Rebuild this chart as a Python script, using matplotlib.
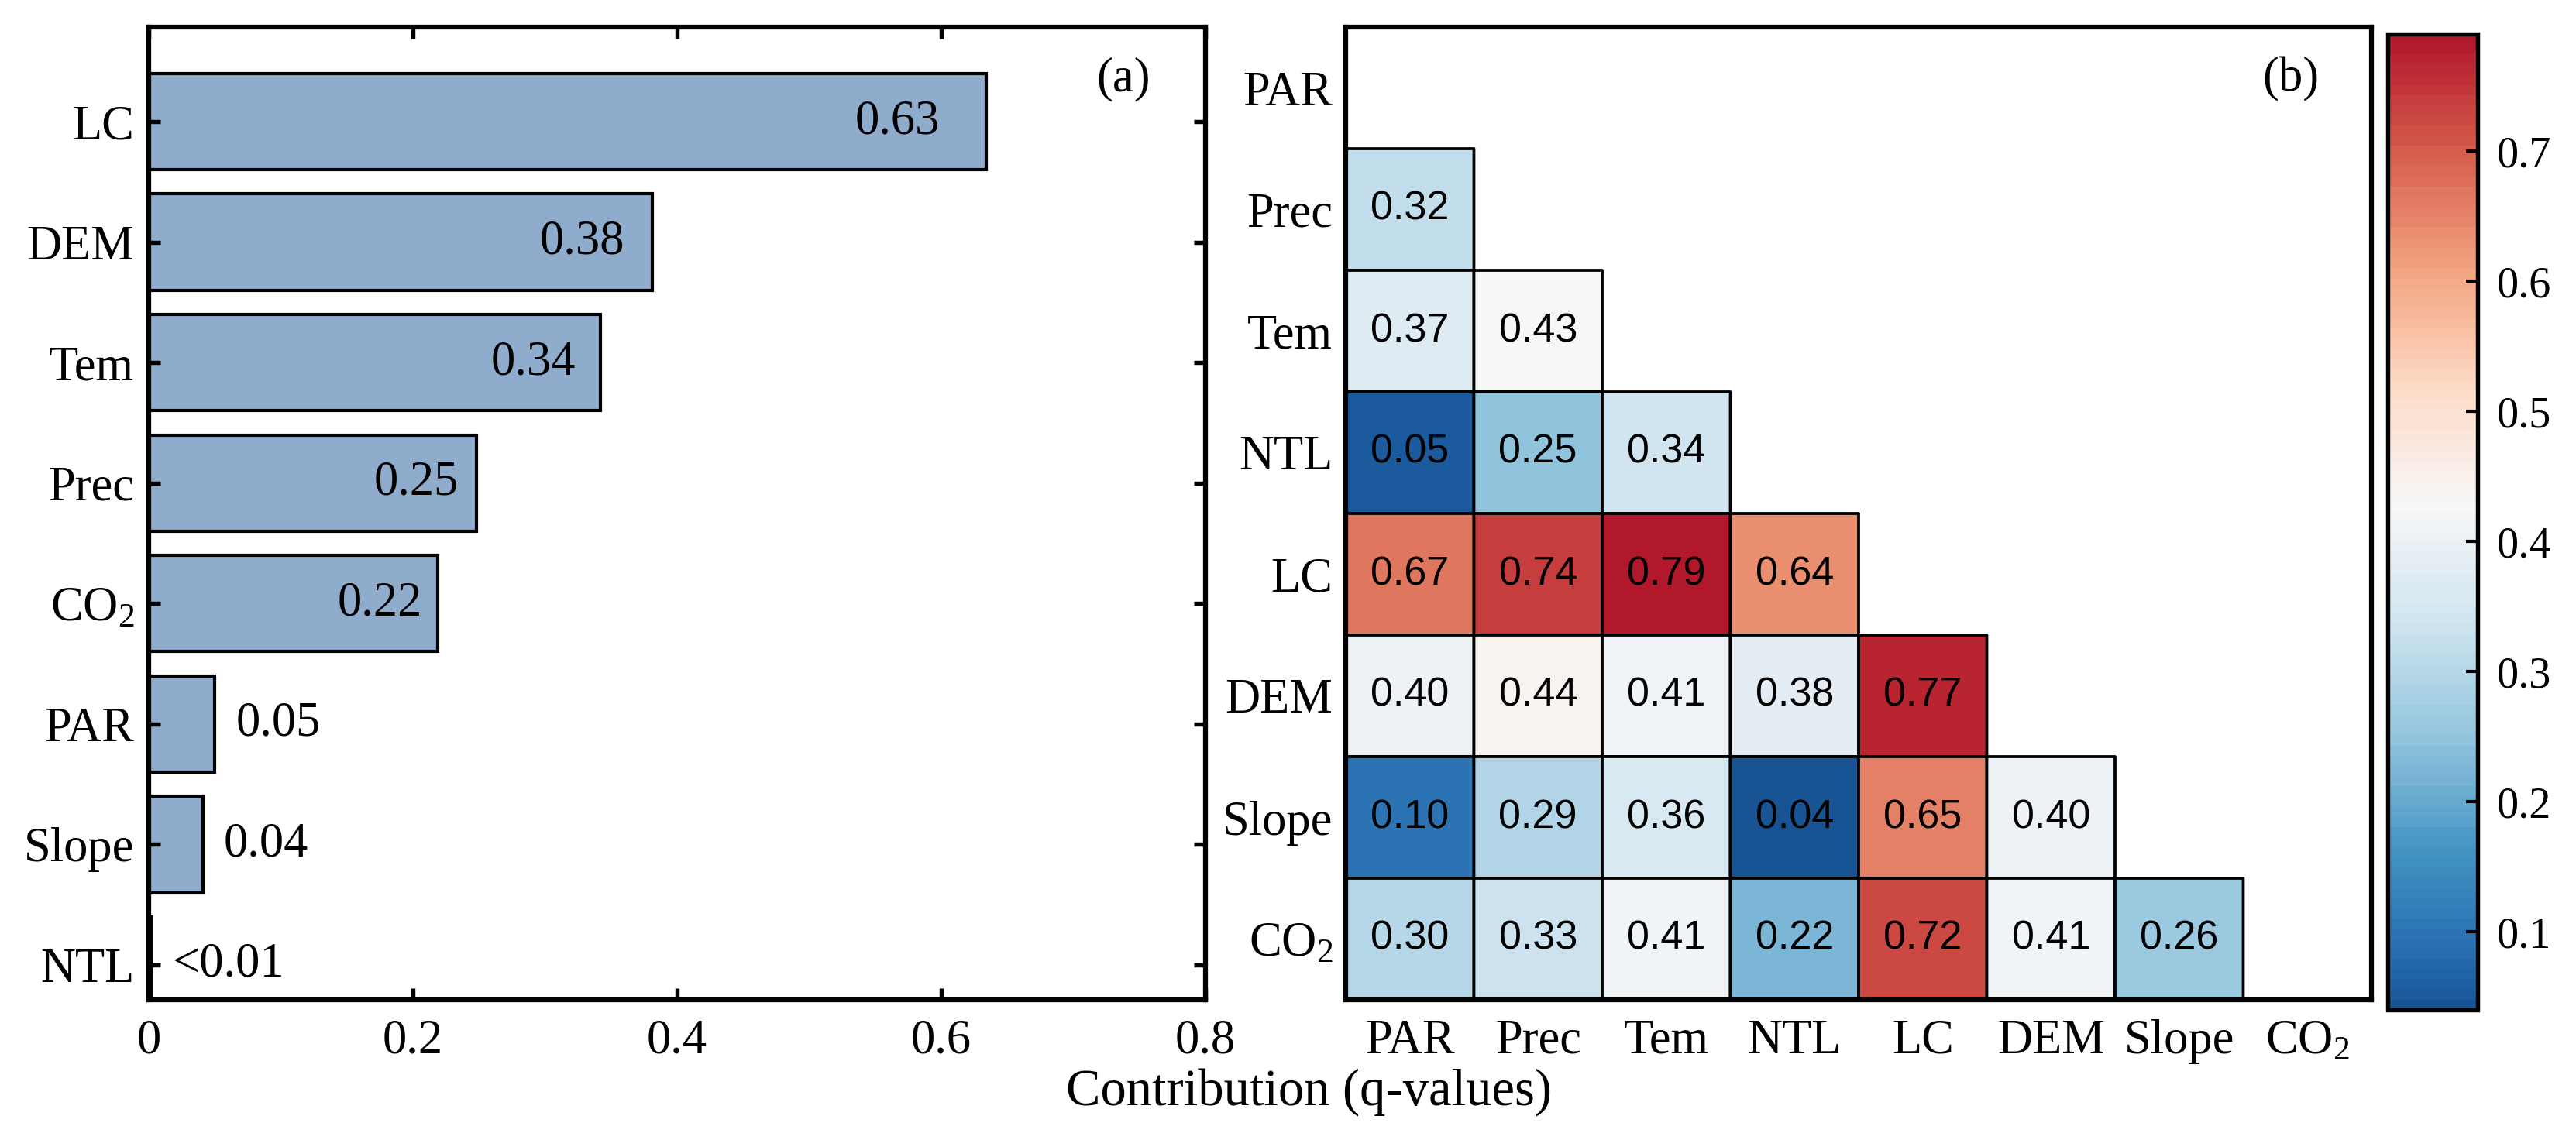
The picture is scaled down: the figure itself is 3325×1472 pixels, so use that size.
import numpy as np
import matplotlib
matplotlib.use("Agg")
import matplotlib.pyplot as plt
from matplotlib.colors import ListedColormap

plt.rcParams['font.family'] = ['Liberation Serif', 'DejaVu Serif']
plt.rcParams['mathtext.fontset'] = 'custom'
plt.rcParams['mathtext.rm'] = 'Liberation Serif'
plt.rcParams['mathtext.it'] = 'Liberation Serif:italic'

# ---------------- data ----------------
bar_labels = ['LC', 'DEM', 'Tem', 'Prec', r'$\mathrm{CO_2}$', 'PAR', 'Slope', 'NTL']
bar_values = [0.634, 0.381, 0.342, 0.248, 0.219, 0.050, 0.041, 0.002]
bar_texts = ['0.63', '0.38', '0.34', '0.25', '0.22', '0.05', '0.04', '<0.01']

factors = ['PAR', 'Prec', 'Tem', 'NTL', 'LC', 'DEM', 'Slope', r'$\mathrm{CO_2}$']
row_PAR = []
row_Prec = [0.32]
row_Tem = [0.37, 0.43]
row_NTL = [0.05, 0.25, 0.34]
row_LC = [0.67, 0.74, 0.79, 0.64]
row_DEM = [0.40, 0.44, 0.41, 0.38, 0.77]
row_Slope = [0.10, 0.29, 0.36, 0.04, 0.65, 0.40]
row_CO2 = [0.30, 0.33, 0.41, 0.22, 0.72, 0.41, 0.26]
rows = [row_PAR, row_Prec, row_Tem, row_NTL, row_LC, row_DEM, row_Slope, row_CO2]

cbar_ticks = [0.1, 0.2, 0.3, 0.4, 0.5, 0.6, 0.7]

# ---------------- figure ----------------
W, H = 3325, 1472
fig = plt.figure(figsize=(W / 300, H / 300), dpi=300)

def frac(x0, y0, x1, y1):
    return [x0 / W, 1 - y1 / H, (x1 - x0) / W, (y1 - y0) / H]

ax1 = fig.add_axes(frac(192, 35, 1556, 1291))
ax2 = fig.add_axes(frac(1737, 35, 3061, 1291))
cax = fig.add_axes(frac(3082, 44, 3198, 1304))

spine_lw = 1.5
TICK_FS = 15

# ---------------- panel (a) ----------------
n = len(bar_labels)
ypos = np.arange(n)[::-1]
ax1.barh(ypos, bar_values, height=0.8, color='#8FACCC', edgecolor='black', linewidth=1.0)
for y, v, t in zip(ypos, bar_values, bar_texts):
    if v > 0.15:
        ax1.text(v * 0.945, y, t, ha='right', va='center', fontsize=TICK_FS)
    else:
        ax1.annotate(t, (v, y), xytext=(6.5, 0), textcoords='offset points',
                     ha='left', va='center', fontsize=TICK_FS)
ax1.set_xlim(0, 0.8)
ax1.set_ylim(-0.29, n - 1 + 0.785)
ax1.set_yticks(ypos)
ax1.set_yticklabels(bar_labels)
ax1.set_xticks([0, 0.2, 0.4, 0.6, 0.8])
ax1.set_xticklabels(['0', '0.2', '0.4', '0.6', '0.8'])
ax1.tick_params(axis='both', which='both', direction='in', top=True, right=True,
                length=3.5, width=1.3, labelsize=TICK_FS)
ax1.tick_params(axis='x', pad=6)
ax1.tick_params(axis='y', pad=4.5)
for s in ax1.spines.values():
    s.set_linewidth(spine_lw)
ax1.text(0.948, 0.946, '(a)', transform=ax1.transAxes, ha='right', va='center',
         fontsize=TICK_FS)

# ---------------- panel (b) ----------------
M = np.full((n, n), np.nan)
for i, r in enumerate(rows):
    for j, v in enumerate(r):
        M[i, j] = v
Mm = np.ma.masked_invalid(M)
vmin, vmax = 0.04, 0.79
base = plt.get_cmap('RdBu_r')
cmap = ListedColormap(base(np.linspace(0.07, 0.9, 96)))
mesh = ax2.pcolor(np.arange(n + 1), np.arange(n + 1), Mm, cmap=cmap,
                  vmin=vmin, vmax=vmax, edgecolors='black', linewidth=0.9)
for i, r in enumerate(rows):
    for j, v in enumerate(r):
        ax2.text(j + 0.5, i + 0.5, f'{v:.2f}', ha='center', va='center',
                 fontsize=12.5, family=['Liberation Sans', 'DejaVu Sans'])
ax2.set_xlim(0, n)
ax2.set_ylim(n, 0)
ax2.set_xticks(np.arange(n) + 0.5)
ax2.set_xticklabels(factors)
ax2.set_yticks(np.arange(n) + 0.5)
ax2.set_yticklabels(factors)
ax2.tick_params(axis='both', length=0, labelsize=TICK_FS)
ax2.tick_params(axis='x', pad=6)
ax2.tick_params(axis='y', pad=4)
for s in ax2.spines.values():
    s.set_linewidth(spine_lw)
ax2.text(0.9486, 0.946, '(b)', transform=ax2.transAxes, ha='right', va='center',
         fontsize=TICK_FS)

# ---------------- colorbar ----------------
cb = fig.colorbar(mesh, cax=cax)
cb.set_ticks(cbar_ticks)
cb.set_ticklabels([f'{t:.1f}' for t in cbar_ticks])
cax.tick_params(direction='in', length=3.5, width=1.0, labelsize=13.5, pad=6)
cb.outline.set_linewidth(1.3)

# ---------------- x label ----------------
fig.text(1689 / W, 1 - 1410 / H, 'Contribution (q-values)', ha='center', va='center',
         fontsize=16)

fig.savefig('out.png', dpi=300)
